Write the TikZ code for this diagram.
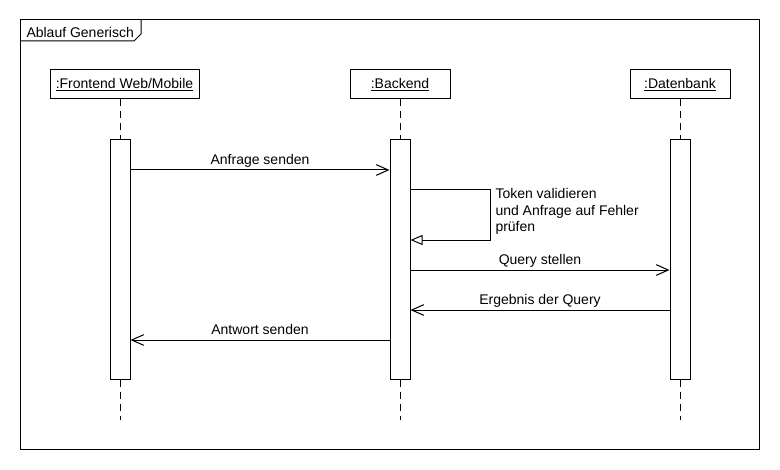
\documentclass[tikz,border=0pt]{standalone}
\usepackage{fontspec}
\setmainfont{Liberation Sans}
\usetikzlibrary{arrows.meta}
\begin{document}
\begin{tikzpicture}[x=0.75pt,y=-0.75pt,line width=0.75pt,
  every node/.style={font=\fontsize{10.5}{12.4}\selectfont},
  head/.style={draw, minimum height=21.75pt, inner sep=0pt},
  act/.style={draw, fill=white, minimum width=15pt, minimum height=179.25pt, inner sep=0pt},
  life/.style={dash pattern=on 5.25pt off 3.75pt},
  msg/.style={-{Straight Barb[length=9pt,width=8pt,line width=0.75pt]}},
  selfmsg/.style={-{Triangle[open,length=9pt,width=7.5pt,line width=0.75pt,fill=white]}},
  lbl/.style={anchor=base, yshift=3.9pt, inner sep=0pt}]
\useasboundingbox (0,0) rectangle (780,470);
% frame
\draw (20,20) rectangle (759,449);
\draw (20,41) -- (134,41) -- (141,34) -- (141,20);
\node[anchor=base west, inner sep=0pt] (title) at (26,37.5) {Ablauf Generisch};
% headers
\node[head, minimum width=111.75pt] (fe) at (124.5,84.5) {\underline{:Frontend Web/Mobile}};
\node[head, minimum width=75pt] (be) at (400,84.5) {\underline{:Backend}};
\node[head, minimum width=75pt] (db) at (680,84.5) {\underline{:Datenbank}};
% activations
\node[act] (fa) at (120,259.5) {};
\node[act] (ba) at (400,259.5) {};
\node[act] (da) at (680,259.5) {};
% lifelines
\coordinate (fend) at (120,420);
\coordinate (bend) at (400,420);
\coordinate (dend) at (680,420);
\draw[life] (fa.north |- fe.south) -- (fa.north);
\draw[life] (ba.north |- be.south) -- (ba.north);
\draw[life] (da.north |- db.south) -- (da.north);
\draw[life] (fa.south) -- (fend);
\draw[life] (ba.south) -- (bend);
\draw[life] (da.south) -- (dend);
% message rows
\coordinate (m1) at (0,170);
\coordinate (s1) at (0,190);
\coordinate (s2) at (0,240);
\coordinate (m3) at (0,270);
\coordinate (m4) at (0,310);
\coordinate (m5) at (0,340);
\coordinate (sx1) at (490,190);
\coordinate (sx2) at (490,240);
\draw[msg] (fa.east |- m1) -- node[lbl] {Anfrage senden} (ba.west |- m1);
\draw[selfmsg] (ba.east |- s1) -- (sx1) -- (sx2) -- (ba.east |- s2);
\node[anchor=north west, align=left, inner sep=0pt] (selftxt) at (495,188) {Token validieren\\und Anfrage auf Fehler\\prüfen};
\draw[msg] (ba.east |- m3) -- node[lbl] {Query stellen} (da.west |- m3);
\draw[msg] (da.west |- m4) -- node[lbl] {Ergebnis der Query} (ba.east |- m4);
\draw[msg] (ba.west |- m5) -- node[lbl] {Antwort senden} (fa.east |- m5);
\end{tikzpicture}
\end{document}
